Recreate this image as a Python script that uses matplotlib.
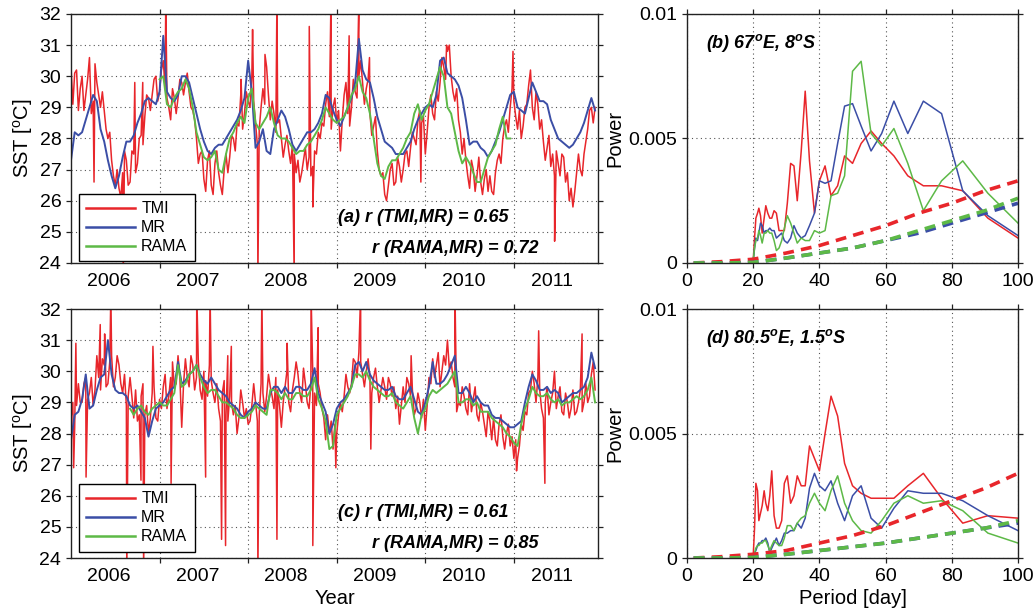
import numpy as np
import matplotlib
matplotlib.use('Agg')
import matplotlib.pyplot as plt

plt.rcParams['font.family'] = ['Liberation Sans', 'DejaVu Sans']
plt.rcParams['mathtext.fontset'] = 'custom'
plt.rcParams['mathtext.rm'] = 'Liberation Sans'
plt.rcParams['mathtext.it'] = 'Liberation Sans:italic'
plt.rcParams['mathtext.bf'] = 'Liberation Sans:bold'
plt.rcParams['mathtext.bfit'] = 'Liberation Sans:italic:bold'

RED = '#e8262b'
BLUE = '#3b4ea6'
GREEN = '#5db947'

# SST time series, semi-monthly samples starting 2006-01-01
start_year = 2006
years = [2006, 2007, 2008, 2009, 2010, 2011]

# (a) 67E, 8S
a_tmi = [30.3, 30.1, 28.9, 30.0, 29.4, 30.6, 29.2, 29.8, 29.0, 28.9,
         28.0, 27.3, 26.5, 26.4, 26.9, 27.3, 26.6, 27.5, 27.2, 28.1,
         28.7, 29.3, 29.4, 30.0, 29.5, 30.5, 29.3, 28.6, 29.3, 29.3,
         29.8, 29.8, 29.5, 28.9, 28.0, 27.5, 26.7, 27.3, 26.5, 27.2,
         26.9, 26.2, 27.5, 27.4, 28.0, 28.5, 29.4, 28.8, 29.2, 30.0,
         28.5, 28.3, 29.6, 30.3, 28.6, 28.8, 28.5, 28.0, 27.8, 27.6,
         27.8, 26.9, 26.6, 27.3, 27.0, 26.8, 27.6, 28.2, 28.5, 29.1,
         28.7, 29.0, 28.5, 27.6, 29.4, 28.8, 29.0, 29.5, 30.0, 29.8,
         29.6, 28.8, 28.4, 27.6, 26.8, 26.2, 26.5, 27.2, 26.6, 27.1,
         27.0, 27.6, 27.7, 28.0, 28.6, 28.5, 27.5, 29.0, 28.8, 29.5,
         29.8, 30.3, 30.8, 30.0, 29.2, 28.6, 27.5, 27.3, 26.4, 27.0,
         26.8, 26.6, 26.7, 26.3, 26.3, 26.9, 27.5, 28.0, 28.6, 29.0,
         29.2, 28.3, 28.0, 29.0, 29.7, 29.0, 29.5, 28.3, 27.9, 27.7,
         27.1, 26.8, 27.2, 27.5, 26.6, 26.0, 25.8, 26.9, 27.0, 27.5,
         28.3, 29.0, 29.0]
# TMI values halfway between the semi-monthly samples
a_tmi_mid = [29.1, 30.2, 29.6, 28.9, 29.9, 28.8, 30.4, 29.4, 29.5, 28.3,
             28.2, 26.8, 27.0, 26.1, 27.6, 26.5, 27.6, 26.9, 28.0, 27.8,
             29.4, 28.9, 29.9, 29.2, 30.2, 29.6, 29.0, 29.6, 28.8, 29.9,
             29.4, 30.1, 29.0, 28.6, 27.2, 27.6, 26.3, 27.6, 26.2, 27.6,
             26.5, 27.0, 26.9, 28.1, 27.6, 28.4, 28.3, 29.5, 29.0, 29.2,
             27.8, 29.0, 29.1, 29.4, 29.2, 28.2, 28.6, 27.4, 28.1, 27.2,
             27.5, 27.3, 26.9, 27.7, 27.4, 27.1, 27.5, 28.0, 28.4, 29.5,
             28.3, 29.3, 28.9, 28.6, 29.8, 28.4, 29.9, 29.3, 30.5, 29.1,
             29.9, 28.1, 28.7, 27.0, 26.9, 26.0, 27.0, 26.5, 27.4, 26.6,
             27.5, 27.1, 28.2, 27.8, 28.9, 28.7, 28.2, 29.4, 28.6, 29.2,
             30.6, 29.9, 31.0, 29.5, 29.6, 28.2, 28.0, 26.8, 27.3, 26.3,
             27.4, 26.2, 27.0, 26.8, 26.2, 27.3, 27.2, 28.4, 28.2, 29.6,
             28.7, 28.9, 28.4, 29.1, 30.2, 28.6, 29.1, 28.6, 27.3, 28.1,
             27.5, 27.6, 26.8, 27.4, 26.9, 26.4, 26.3, 27.5, 26.8, 27.9,
             28.9, 28.5]
# single-day TMI outliers (years after 2006-01-01, value)
a_tmi_spike_t = [0.26, 0.59, 0.72, 0.81, 1.07, 1.92, 2.05, 2.11, 2.19, 2.325,
                 2.52, 2.69, 2.73, 2.935, 3.14, 3.25, 3.37, 3.95, 4.24, 4.99, 5.46]
a_tmi_spike_v = [26.6, 23.5, 29.8, 29.8, 32.5, 29.9, 31.5, 23.5, 30.7, 32.5,
                 23.5, 31.6, 25.8, 32.5, 31.3, 32.5, 30.6, 26.6, 31.0, 30.8, 24.7]
a_mr = [27.3, 28.2, 28.1, 28.2, 28.6, 29.0, 29.4, 29.2, 28.3, 27.9,
        27.3, 26.8, 26.4, 26.8, 27.4, 27.9, 27.9, 28.1, 28.5, 28.8,
        29.2, 29.3, 29.2, 29.1, 29.5, 31.3, 29.5, 29.3, 29.2, 29.4,
        30.0, 30.0, 29.8, 29.3, 28.8, 28.3, 27.9, 27.6, 27.5, 27.7,
        27.8, 27.8, 28.0, 28.2, 28.4, 28.6, 28.9, 29.3, 30.5, 29.5,
        27.7, 27.9, 28.3, 27.6, 27.5, 28.3, 28.6, 28.9, 28.7, 28.3,
        27.8, 27.6, 27.8, 28.0, 28.2, 28.2, 28.3, 28.5, 28.8, 29.4,
        29.3, 28.9, 28.6, 28.4, 28.7, 29.0, 29.3, 29.8, 31.2, 30.2,
        29.9, 29.8, 29.3, 28.7, 28.3, 27.9, 27.8, 27.7, 27.5, 27.5,
        27.5, 27.7, 27.9, 28.3, 28.6, 28.8, 29.0, 29.1, 29.0, 29.4,
        30.5, 30.6, 30.1, 30.0, 29.9, 29.7, 29.3, 28.6, 27.8, 27.9,
        27.9, 27.7, 27.6, 27.4, 27.6, 27.9, 28.2, 28.6, 29.0, 29.4,
        29.5, 29.0, 28.9, 28.8, 29.3, 29.8, 29.5, 29.2, 29.2, 29.1,
        28.6, 28.3, 28.0, 27.9, 27.8, 27.7, 27.8, 28.0, 28.2, 28.5,
        28.9, 29.3, 28.9]
a_rama_first = 24  # RAMA record starts 2007-01
a_rama = [29.9, 30.0, 29.1, 29.0, 29.3, 29.5, 29.6, 29.9, 29.6, 29.0,
          28.2, 27.8, 27.4, 27.3, 27.4, 27.6, 27.0, 26.9, 27.5, 28.0,
          28.2, 28.5, 28.7, 28.5, 29.3, 29.6, 28.5, 28.3, 28.5, 28.7,
          29.0, 28.5, 28.1, 28.0, 28.0, 27.9, 27.7, 27.5, 27.6, 27.6,
          27.8, 27.9, 28.1, 28.3, 28.6, 29.0, 28.8, 28.6, 28.5, 28.6,
          28.7, 29.0, 29.4, 29.6, 30.0, 29.5, 29.3, 28.8, 28.0, 27.2,
          26.8, 26.7, 27.1, 27.3, 27.3, 27.5, 27.7, 28.0, 28.2, 28.8,
          29.1, 28.6, 28.9, 29.1, 29.5, 29.9, 30.3, 30.0, 29.0, 28.8,
          28.2, 27.6, 27.2, 27.4, 27.2, 26.9, 26.6, 26.6, 27.0, 27.4,
          27.6, 27.8, 28.3, 28.7, 28.0, 28.0]

# (c) 80.5E, 1.5S
c_tmi = [28.5, 28.2, 29.6, 29.0, 29.8, 29.3, 28.9, 30.5, 29.4, 30.2,
         29.6, 30.5, 29.8, 30.2, 29.3, 28.9, 29.8, 28.5, 28.4, 29.2,
         28.6, 28.0, 29.3, 28.5, 29.1, 29.5, 28.8, 29.8, 29.5, 30.5,
         28.2, 30.4, 29.5, 30.2, 29.8, 29.4, 30.0, 29.2, 29.7, 29.0,
         28.8, 29.3, 28.6, 29.2, 28.6, 28.0, 29.4, 28.5, 28.3, 28.9,
         29.0, 28.6, 29.3, 29.2, 29.5, 28.8, 29.4, 28.2, 29.5, 29.0,
         29.4, 30.3, 29.3, 30.1, 29.0, 29.6, 29.3, 29.6, 28.8, 27.8,
         28.0, 27.5, 28.0, 29.0, 29.2, 29.5, 29.6, 30.3, 30.6, 29.9,
         30.0, 29.8, 29.8, 29.5, 29.4, 29.5, 29.8, 29.2, 28.8, 28.3,
         29.5, 29.8, 29.2, 28.6, 29.3, 28.5, 28.1, 29.8, 30.4, 30.2,
         29.5, 30.5, 31.0, 30.3, 29.5, 29.0, 29.5, 28.8, 29.6, 29.1,
         28.6, 29.0, 28.3, 28.7, 27.8, 27.8, 28.3, 27.9, 28.0, 27.6,
         27.2, 27.2, 28.3, 28.7, 29.3, 30.0, 29.0, 29.4, 28.5, 29.5,
         29.0, 30.0, 29.2, 28.7, 29.3, 28.5, 29.4, 28.7, 29.4, 29.0,
         29.0, 29.9, 29.4]
c_tmi_mid = [29.0, 28.9, 29.0, 29.6, 29.1, 29.8, 29.4, 29.8, 30.4, 29.5,
             30.3, 29.5, 30.5, 29.6, 29.9, 29.2, 29.2, 29.4, 28.6, 29.6,
             28.9, 28.5, 29.5, 28.4, 28.8, 29.9, 29.2, 30.3, 29.6, 29.8,
             29.6, 29.8, 30.5, 29.4, 30.3, 29.1, 29.7, 30.2, 29.3, 29.6,
             28.4, 29.7, 28.4, 29.0, 28.9, 28.5, 29.0, 28.8, 28.4, 29.6,
             28.4, 29.6, 28.7, 29.9, 29.2, 29.8, 28.9, 29.0, 30.0, 28.7,
             29.8, 29.9, 29.0, 29.6, 28.8, 30.0, 28.9, 29.3, 28.5, 28.6,
             28.4, 28.3, 28.6, 28.7, 29.9, 29.3, 30.4, 29.8, 30.3, 29.5,
             30.4, 29.3, 30.1, 29.0, 29.8, 29.1, 29.6, 29.5, 29.2, 28.9,
             29.0, 29.6, 29.4, 28.8, 29.0, 29.1, 28.9, 29.6, 29.8, 30.6,
             30.0, 30.2, 30.1, 29.8, 28.7, 28.9, 29.2, 28.6, 28.7, 29.5,
             28.4, 28.7, 27.9, 28.4, 28.5, 27.6, 28.6, 27.5, 28.3, 27.9,
             27.8, 27.6, 28.1, 28.6, 29.4, 29.6, 29.8, 28.8, 29.0, 28.6,
             29.3, 28.8, 29.5, 28.6, 29.0, 28.8, 28.6, 29.0, 28.7, 29.6,
             29.2, 30.3]
c_tmi_spike_t = [0.03, 0.055, 0.17, 0.33, 0.38, 0.45, 0.63, 0.79, 0.82, 0.925,
                 1.13, 1.42, 1.52, 1.57, 1.70, 1.745, 1.77, 1.81,
                 2.11, 2.155, 2.325, 2.44, 2.71, 2.73, 2.79, 2.99,
                 3.27, 3.385, 3.84, 4.335, 5.03, 5.28, 5.35, 5.77]
c_tmi_spike_v = [26.9, 30.9, 26.6, 31.5, 31.2, 32.5, 23.5, 26.5, 23.5, 30.8,
                 26.4, 32.5, 26.6, 32.5, 24.6, 24.4, 30.5, 30.8,
                 23.5, 32.5, 24.6, 30.9, 32.5, 24.4, 31.4, 26.9,
                 32.5, 27.5, 30.5, 32.5, 26.8, 31.3, 26.4, 31.2]
c_mr = [27.8, 28.6, 28.7, 29.1, 29.9, 28.8, 28.9, 29.4, 29.8, 29.9,
        31.0, 29.9, 29.4, 29.3, 29.3, 29.2, 28.9, 28.8, 28.9, 28.7,
        28.5, 27.9, 28.4, 28.8, 28.9, 29.0, 29.2, 29.4, 29.5, 30.3,
        29.6, 29.7, 29.9, 30.0, 30.2, 29.9, 29.7, 29.6, 29.8, 29.6,
        29.4, 29.3, 29.2, 29.0, 28.9, 28.8, 28.6, 28.5, 28.7, 28.8,
        29.0, 28.9, 28.8, 28.8, 29.3, 29.5, 29.5, 29.3, 29.5, 29.3,
        29.3, 29.5, 29.5, 29.4, 29.4, 29.6, 30.1, 29.3, 29.0, 28.7,
        28.0, 28.3, 28.8, 29.0, 29.1, 29.3, 29.5, 30.2, 30.3, 30.0,
        30.3, 29.9, 29.7, 29.6, 29.5, 29.4, 29.4, 29.5, 29.2, 29.1,
        29.1, 29.3, 29.5, 29.1, 28.7, 28.6, 29.0, 29.5, 30.3, 29.6,
        29.6, 29.7, 29.9, 30.2, 30.5, 29.3, 29.3, 29.5, 29.3, 29.0,
        29.2, 29.0, 28.9, 28.9, 28.6, 28.5, 28.5, 28.4, 28.3, 28.2,
        28.2, 28.3, 28.4, 29.0, 29.5, 29.9, 29.7, 29.4, 29.4, 29.5,
        29.3, 29.4, 29.3, 29.0, 29.1, 29.2, 29.3, 29.3, 29.4, 29.5,
        29.8, 30.6, 30.1]
c_rama_first = 16  # RAMA record starts 2006-09
c_rama = [28.8, 28.6, 28.8, 28.9, 28.7, 28.6, 28.8, 28.9, 29.0, 28.9,
          28.9, 29.1, 29.3, 30.2, 29.5, 29.6, 29.9, 30.0, 30.2, 29.8,
          29.5, 29.3, 29.4, 29.4, 29.2, 29.0, 29.0, 28.9, 28.8, 28.6,
          28.5, 28.5, 28.6, 28.7, 28.9, 28.8, 28.7, 28.6, 29.4, 29.4,
          29.3, 29.1, 29.3, 29.1, 29.1, 29.3, 29.3, 29.2, 29.2, 29.4,
          29.8, 29.1, 28.8, 28.4, 27.5, 27.6, 28.6, 28.8, 29.0, 29.2,
          29.5, 29.9, 29.9, 29.8, 30.0, 29.7, 29.5, 29.4, 29.3, 29.2,
          29.2, 29.3, 29.0, 28.9, 28.8, 29.0, 29.2, 28.5, 28.0, 28.6,
          28.8, 29.2, 29.4, 29.3, 29.4, 29.5, 29.6, 29.8, 30.0, 29.0,
          29.0, 29.1, 29.1, 28.9, 29.0, 28.7, 28.7, 28.7, 28.5, 28.4,
          28.3, 28.2, 28.0, 27.9, 27.7, 27.6, 28.3, 28.8, 29.1, 29.5,
          29.3, 29.2, 29.2, 29.3, 29.1, 29.0, 29.1, 28.9, 29.0, 29.0,
          29.1, 29.2, 29.1, 29.2, 29.4, 29.8, 29.0]

# Power spectra, periods in days
period = [100.0, 90.9, 83.3, 76.9, 71.4, 66.7, 62.5, 58.8, 55.6, 52.6,
          50.0, 47.6, 45.5, 43.5, 41.7, 40.0, 38.5, 37.0, 35.7, 34.5,
          33.3, 32.3, 31.3, 30.3, 29.4, 28.6, 27.8, 27.0, 26.3, 25.6,
          25.0, 24.4, 23.8, 23.3, 22.7, 22.2, 21.7, 21.3, 20.8, 20.4, 20.0]
b_tmi = [0.0010, 0.0018, 0.0029, 0.0031, 0.0031, 0.0035, 0.0043, 0.0048, 0.0053, 0.0048,
         0.0040, 0.0043, 0.0031, 0.0027, 0.0039, 0.0033, 0.0020, 0.0041, 0.0069, 0.0045,
         0.0025, 0.0039, 0.0040, 0.0024, 0.0013, 0.0013, 0.0013, 0.0020, 0.0021, 0.0018,
         0.0018, 0.0020, 0.0023, 0.0018, 0.0012, 0.0019, 0.0022, 0.0020, 0.0018, 0.0010, 0.0001]
b_mr = [0.0011, 0.0019, 0.0029, 0.0060, 0.0065, 0.0052, 0.0065, 0.0052, 0.0045, 0.0055,
        0.0064, 0.0063, 0.0048, 0.0033, 0.0032, 0.0033, 0.0020, 0.0015, 0.0011, 0.0010,
        0.0012, 0.0015, 0.0010, 0.0008, 0.0009, 0.0012, 0.0011, 0.0010, 0.0013, 0.0013,
        0.0014, 0.0013, 0.0013, 0.0012, 0.0015, 0.0016, 0.0012, 0.0009, 0.0010, 0.0006, 0.0001]
b_rama = [0.0016, 0.0028, 0.0041, 0.0033, 0.0021, 0.0040, 0.0054, 0.0047, 0.0052, 0.0081,
          0.0077, 0.0035, 0.0028, 0.0027, 0.0013, 0.0012, 0.0013, 0.0009, 0.0009, 0.0010,
          0.0008, 0.0012, 0.0016, 0.0019, 0.0014, 0.0009, 0.0006, 0.0005, 0.0009, 0.0012,
          0.0012, 0.0013, 0.0012, 0.0012, 0.0008, 0.0011, 0.0013, 0.0010, 0.0009, 0.0006, 0.0001]
d_tmi = [0.0016, 0.0017, 0.0014, 0.0024, 0.0034, 0.0029, 0.0024, 0.0024, 0.0024, 0.0026,
         0.0029, 0.0038, 0.0057, 0.0065, 0.0050, 0.0035, 0.0040, 0.0045, 0.0029, 0.0029,
         0.0033, 0.0025, 0.0022, 0.0033, 0.0030, 0.0015, 0.0012, 0.0012, 0.0017, 0.0035,
         0.0025, 0.0019, 0.0022, 0.0027, 0.0021, 0.0018, 0.0015, 0.0027, 0.0030, 0.0012, 0.0001]
d_mr = [0.0011, 0.0017, 0.0023, 0.0026, 0.0026, 0.0027, 0.0020, 0.0012, 0.0016, 0.0029,
        0.0025, 0.0015, 0.0022, 0.0031, 0.0027, 0.0029, 0.0034, 0.0028, 0.0016, 0.0012,
        0.0014, 0.0011, 0.0011, 0.0010, 0.0010, 0.0007, 0.0005, 0.0008, 0.0006, 0.0004,
        0.0002, 0.0006, 0.0008, 0.0007, 0.0007, 0.0006, 0.0006, 0.0005, 0.0003, 0.0002, 0.0001]
d_rama = [0.0006, 0.0010, 0.0019, 0.0023, 0.0022, 0.0025, 0.0022, 0.0015, 0.0010, 0.0011,
          0.0015, 0.0022, 0.0033, 0.0027, 0.0019, 0.0022, 0.0026, 0.0022, 0.0017, 0.0016,
          0.0014, 0.0011, 0.0013, 0.0013, 0.0008, 0.0005, 0.0005, 0.0006, 0.0007, 0.0005,
          0.0003, 0.0005, 0.0007, 0.0007, 0.0006, 0.0006, 0.0005, 0.0005, 0.0004, 0.0002, 0.0001]

# red-noise significance curves
noise_period = [2, 10, 20, 30, 40, 50, 60, 70, 80, 90, 100]
b_tmi_noise = [0.0, 0.00005, 0.00015, 0.0004, 0.0007, 0.0011, 0.0015, 0.0020, 0.0024, 0.0029, 0.0033]
b_mr_noise = [0.0, 0.0, 0.00002, 0.0002, 0.0004, 0.0006, 0.0009, 0.0012, 0.0016, 0.0020, 0.0024]
b_rama_noise = [0.0, 0.0, 0.00002, 0.0002, 0.0004, 0.0006, 0.0009, 0.0013, 0.0017, 0.0021, 0.0026]
d_tmi_noise = [0.0, 0.00005, 0.00015, 0.0003, 0.0006, 0.0009, 0.0013, 0.0018, 0.0023, 0.0028, 0.0034]
d_mr_noise = [0.0, 0.0, 0.00002, 0.00015, 0.0003, 0.00045, 0.0006, 0.0008, 0.0010, 0.0012, 0.0014]
d_rama_noise = [0.0, 0.0, 0.00002, 0.00015, 0.0003, 0.00045, 0.0006, 0.0008, 0.0010, 0.0012, 0.0015]

t_all = start_year + np.arange(len(a_mr)) / 24.0
t_mid = t_all[:-1] + 1 / 48.0
GRID = dict(ls=(0, (1, 3)), color='#555555', lw=0.8)
TICK_FS = 14
LABEL_FS = 14.5


def tmi_series(v, vmid, st, sv):
    tt = np.concatenate([t_all, t_mid, start_year + np.array(st)])
    vv = np.concatenate([v, vmid, sv])
    o = np.argsort(tt)
    return tt[o], vv[o]


def style(ax):
    for s in ax.spines.values():
        s.set_linewidth(1.0)
        s.set_color('#222222')
    ax.tick_params(which='major', direction='out', length=3.5, width=0.9,
                   top=True, right=True, labelsize=TICK_FS, colors='#222222')
    ax.tick_params(which='major', labelcolor='black')


def sst_panel(ax, tmi, tmi_mid, st, sv, mr, rama, rama_first, txt1, txt2, leg_y):
    t, v = tmi_series(tmi, tmi_mid, st, sv)
    ax.plot(t, v, color=RED, lw=1.1, label='TMI')
    ax.plot(t_all, mr, color=BLUE, lw=1.4, label='MR')
    ax.plot(t_all[rama_first:rama_first + len(rama)], rama, color=GREEN, lw=1.4, label='RAMA')
    ax.set_xlim(2006, 2011.95)
    ax.set_ylim(24, 32)
    ax.set_yticks(range(24, 33))
    ax.set_xticks(years[1:])
    ax.set_xticklabels([])
    ax.set_xticks(np.array(years) + 0.43, minor=True)
    ax.set_xticklabels([str(y) for y in years], minor=True)
    style(ax)
    ax.tick_params(which='minor', length=0, pad=7, labelsize=TICK_FS)
    ax.grid(True, which='major', **GRID)
    ax.set_ylabel('SST [$^{\\rm o}$C]', fontsize=LABEL_FS, labelpad=3)
    leg = ax.legend(loc='lower left', bbox_to_anchor=(0.015, leg_y), borderaxespad=0,
                    fontsize=11.5, handlelength=3.05, handletextpad=0.4,
                    labelspacing=0.25, fancybox=False, framealpha=1,
                    edgecolor='black', borderpad=0.45)
    leg.get_frame().set_linewidth(1.0)
    for ln in leg.get_lines():
        ln.set_linewidth(1.8)
    ax.text(0.507, 0.182, txt1, transform=ax.transAxes, fontsize=13,
            fontweight='bold', style='italic', va='center', ha='left')
    ax.text(0.571, 0.06, txt2, transform=ax.transAxes, fontsize=13,
            fontweight='bold', style='italic', va='center', ha='left')


def power_panel(ax, tmi, mr, rama, n_tmi, n_mr, n_rama, title):
    ax.plot(period, tmi, color=RED, lw=1.1)
    ax.plot(period, mr, color=BLUE, lw=1.1)
    ax.plot(period, rama, color=GREEN, lw=1.1)
    ax.plot(noise_period, n_tmi, color=RED, lw=2.6, ls=(0, (3, 2)))
    ax.plot(noise_period, n_mr, color=BLUE, lw=2.6, ls=(0, (3, 2)))
    ax.plot(noise_period, n_rama, color=GREEN, lw=2.6, ls=(0, (3, 2)))
    ax.set_xlim(0, 100)
    ax.set_ylim(0, 0.01)
    ax.set_xticks(range(0, 101, 20))
    ax.set_yticks([0, 0.005, 0.01])
    ax.set_yticklabels(['0', '0.005', '0.01'])
    style(ax)
    ax.grid(True, **GRID)
    ax.set_ylabel('Power', fontsize=LABEL_FS, labelpad=3)
    ax.text(0.057, 0.885, title, transform=ax.transAxes, fontsize=13,
            fontweight='bold', style='italic', va='center', ha='left')


fig = plt.figure(figsize=(10.35, 6.14), dpi=100)
ax_a = fig.add_axes([0.0686, 0.5717, 0.5092, 0.4055])
ax_c = fig.add_axes([0.0686, 0.0912, 0.5092, 0.4055])
ax_b = fig.add_axes([0.6638, 0.5717, 0.3198, 0.4055])
ax_d = fig.add_axes([0.6638, 0.0912, 0.3198, 0.4055])

sst_panel(ax_a, a_tmi, a_tmi_mid, a_tmi_spike_t, a_tmi_spike_v, a_mr, a_rama, a_rama_first,
          '(a) r (TMI,MR) = 0.65', 'r (RAMA,MR) = 0.72', 0.006)
sst_panel(ax_c, c_tmi, c_tmi_mid, c_tmi_spike_t, c_tmi_spike_v, c_mr, c_rama, c_rama_first,
          '(c) r (TMI,MR) = 0.61', 'r (RAMA,MR) = 0.85', 0.026)
ax_c.set_xlabel('Year', fontsize=LABEL_FS, labelpad=3)

power_panel(ax_b, b_tmi, b_mr, b_rama, b_tmi_noise, b_mr_noise, b_rama_noise,
            '(b) 67$^{\\mathbfit{o}}$E, 8$^{\\mathbfit{o}}$S')
power_panel(ax_d, d_tmi, d_mr, d_rama, d_tmi_noise, d_mr_noise, d_rama_noise,
            '(d) 80.5$^{\\mathbfit{o}}$E, 1.5$^{\\mathbfit{o}}$S')
ax_d.set_xlabel('Period [day]', fontsize=LABEL_FS, labelpad=3)

fig.savefig('out.png', dpi=100)
